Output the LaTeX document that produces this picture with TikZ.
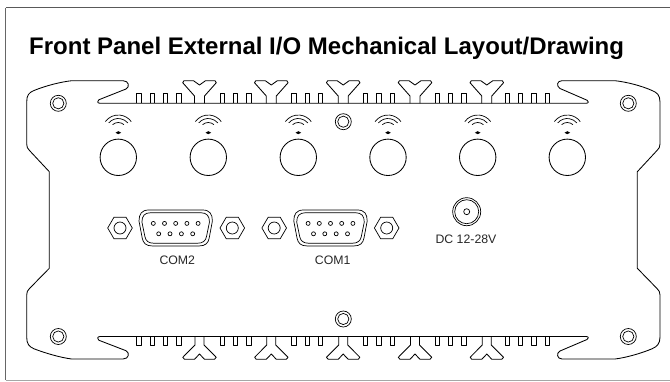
\documentclass[tikz,border=0pt]{standalone}
\usepackage{fontspec}
\setmainfont{Liberation Sans}
\tikzset{
  ln/.style={draw=black,line width=0.85pt,line join=round},
  thin ln/.style={draw=black,line width=0.7pt},
  lbl/.style={inner sep=0pt,font=\fontsize{12.3}{14}\selectfont,text=black!85},
  ttl/.style={inner sep=0pt,anchor=base west,font=\bfseries\fontsize{24}{26}\selectfont},
}
\newcommand{\hole}[2]{\draw[thin ln] (#1,#2) circle (8) (#1,#2) circle (5.6);}
\newcommand{\toothtop}[2]{\draw[ln] (#1,#2) -- ++(0,-10) -- ++(4.5,0) -- ++(0,10);}
\newcommand{\toothbot}[2]{\draw[ln] (#1,#2) -- ++(0,8.7) -- ++(4.5,0) -- ++(0,-8.7);}
\newcommand{\ytop}[1]{\draw[ln] (#1-5,103.3) -- (#1-5,96) -- (#1-16.8,82.7) -- (#1-15.5,80.7) -- (#1-6,80.7) -- (#1,85) -- (#1+6,80.7) -- (#1+15.5,80.7) -- (#1+16.8,82.7) -- (#1+5,96) -- (#1+5,103.3);}
\newcommand{\ybot}[1]{\draw[ln] (#1-4.5,336.5) -- (#1-4.5,345) -- (#1-16.7,357.3) -- (#1-15,359.3) -- (#1-5,359.3) -- (#1,354) -- (#1+5,359.3) -- (#1+15,359.3) -- (#1+16.7,357.3) -- (#1+4.5,345) -- (#1+4.5,336.5);}
\newcommand{\wifi}[1]{%
  \draw[ln] (#1,157.3) circle (18.2);
  \fill (#1-2.8,132.7) -- (#1,131.2) -- (#1+2.8,132.7) -- (#1,134.2) -- cycle;
  \foreach \rr/\aa in {16/54,12.5/50,8.5/42}{\draw[thin ln] (#1,131) ++({-90-\aa}:\rr) arc[start angle=-90-\aa,end angle=-90+\aa,radius=\rr];}
}
\newcommand{\nut}[2]{\draw[thin ln,line join=round] (#1-12.3,#2) -- (#1-6,#2-10.8) -- (#1+6,#2-10.8) -- (#1+12.3,#2) -- (#1+6,#2+10.8) -- (#1-6,#2+10.8) -- cycle (#1,#2) circle (6);}
\newcommand{\dshape}[4]{% cx cy sx sy
  \draw[thin ln,line join=round] (#1-27*#3,#2-18*#4) -- (#1+27*#3,#2-18*#4) .. controls (#1+34*#3,#2-18*#4) and (#1+36.7*#3,#2-14*#4) .. (#1+36.7*#3,#2-7*#4) -- (#1+33.5*#3,#2+10*#4) .. controls (#1+32.5*#3,#2+15*#4) and (#1+30*#3,#2+18*#4) .. (#1+23*#3,#2+18*#4) -- (#1-23*#3,#2+18*#4) .. controls (#1-30*#3,#2+18*#4) and (#1-32.5*#3,#2+15*#4) .. (#1-33.5*#3,#2+10*#4) -- (#1-36.7*#3,#2-7*#4) .. controls (#1-36.7*#3,#2-14*#4) and (#1-34*#3,#2-18*#4) .. cycle;}
\newcommand{\dsub}[2]{%
  \dshape{#1}{#2}{1}{1}\dshape{#1}{#2}{0.92}{0.85}
  \foreach \dx in {-22.4,-11.2,0,11.2,22.4}{\draw[thin ln] (#1+\dx,#2-4.6) circle (2);}
  \foreach \dx in {-17,-5.7,5.7,17}{\draw[thin ln] (#1+\dx,#2+5.8) circle (2);}
}
\begin{document}
\begin{tikzpicture}[x=1pt,y=-1pt]
\useasboundingbox (0,0) rectangle (670,381);
\draw[draw=black!65,line width=1.3pt] (670,7.5) -- (5.5,7.5);
\draw[draw=black!60,line width=1pt] (5.5,7.5) -- (5.5,380);
\draw[draw=black!35,line width=1pt] (5.5,380) -- (670,380);
\node[ttl] (title) at (29,54) {Front Panel External I/O Mechanical Layout/Drawing};
% outline
\draw[ln] (49.3,171.7) -- (29.5,150.5) .. controls (27.5,148.5) and (26.7,147) .. (26.7,144) -- (26.7,102) .. controls (26.7,95) and (29,92.5) .. (34,90.5) .. controls (45,86) and (60,82) .. (71.7,80.7) -- (123,80.7) .. controls (129,80.7) and (130,87) .. (126,89) -- (99,99.7) .. controls (97,100.7) and (97,103.3) .. (100,103.3) -- (586,103.3) .. controls (589,103.3) and (589,101) .. (587,100.2) -- (560,88.5) .. controls (556,86) and (557,80.7) .. (562,80.7) -- (615,80.7) .. controls (627,82) and (642,86) .. (652,90.5) .. controls (657,92.5) and (660,95) .. (660,102) -- (660,144) .. controls (660,147) and (659,148.5) .. (657,150.5) -- (637.3,171.7) -- (637.3,268.3) -- (657,288.5) .. controls (659,290.5) and (660,292) .. (660,295) -- (660,337) .. controls (660,344) and (657,346.5) .. (652,348.8) .. controls (642,353) and (627,357.5) .. (615,359) -- (562,359) .. controls (557,359) and (556,353) .. (560,351) -- (587,339.5) .. controls (589,338.5) and (589,336.5) .. (586,336.5) -- (100,336.5) .. controls (97,336.5) and (97,339.5) .. (99,340.3) -- (126,350.7) .. controls (130,352.7) and (129,359) .. (123,359) -- (71.7,359) .. controls (60,357.5) and (45,353) .. (34,348.8) .. controls (29,346.5) and (26.7,344) .. (26.7,337) -- (26.7,295) .. controls (26.7,292) and (27.5,290.5) .. (29.5,288.5) -- (49.3,268.3) -- cycle;
\hole{58.3}{103.3}\hole{628.3}{103.3}\hole{58.3}{336.5}\hole{628.3}{336.5}\hole{343.3}{121.7}\hole{343.3}{319}
% teeth
\foreach \x in {136.7,150,163.3,176.7,220,233.4,246.8,291.7,305,318.4,363.3,376.7,390,435,448.4,461.7,505,518.3,531.7,545}{\toothtop{\x}{103.3}\toothbot{\x}{336.5}}
\foreach \x in {199.5,271.3,343.2,415,486.8}{\ytop{\x}\ybot{\x}}
\foreach \x in {118.3,208.3,298.3,388,477.7,567.3}{\wifi{\x}}
\nut{120}{228}\nut{232.3}{228}\nut{274.2}{228}\nut{386.7}{228}
\dsub{175.7}{228}\dsub{330.5}{228}
\draw[thin ln] (466.7,211.7) circle (14) (466.7,211.7) circle (12) (466.7,211.7) circle (3);
\node[lbl] (com2) at (177.3,260.7) {COM2};
\node[lbl] (com1) at (332.7,260.7) {COM1};
\node[lbl] (dc) at (466,239) {DC 12-28V};
\end{tikzpicture}
\end{document}
